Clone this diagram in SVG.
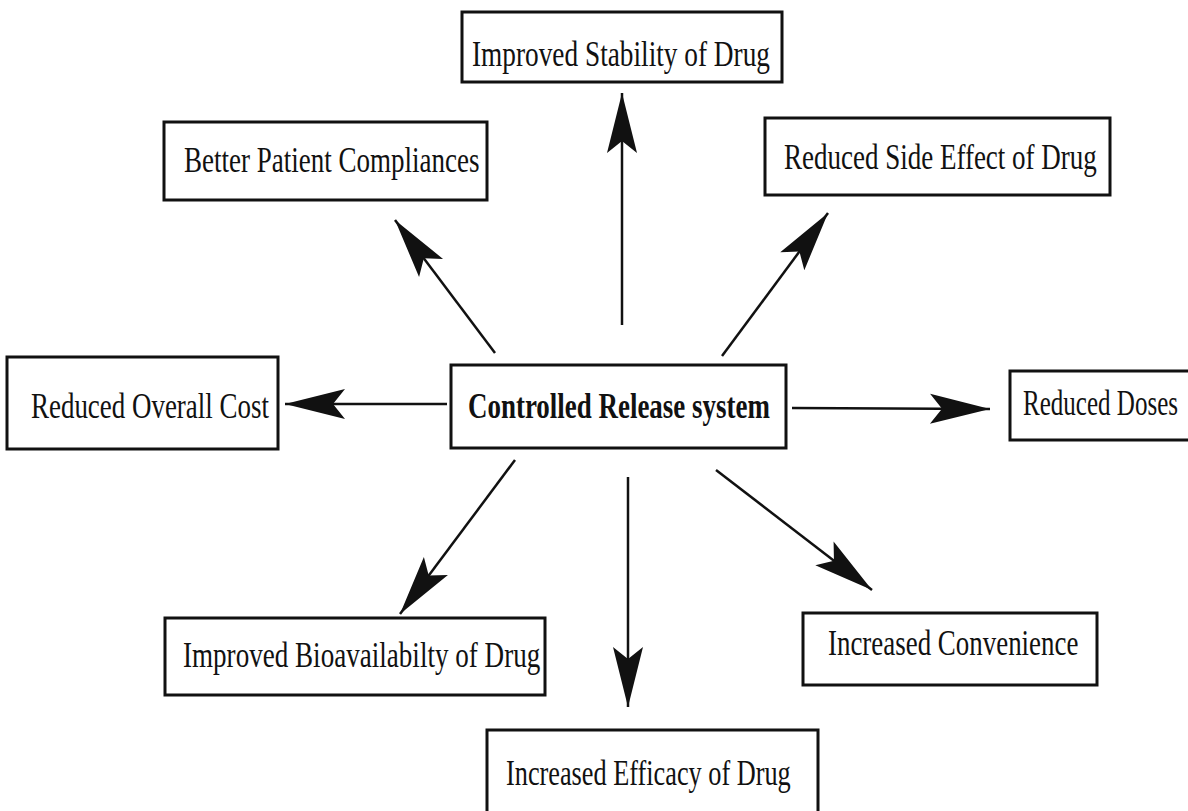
<svg xmlns="http://www.w3.org/2000/svg" width="1188" height="811" viewBox="0 0 1188 811">
<style>
.box{fill:#fff;stroke:#111;stroke-width:3}
.t{font-family:"Liberation Serif","Times New Roman",serif;font-size:36px;fill:#111}
.b{font-weight:bold}
.c{stroke:#111;stroke-width:2.5;fill:none}
</style>
<defs>
<marker id="ah" markerUnits="userSpaceOnUse" markerWidth="70" markerHeight="40" viewBox="-64 -20 70 40" refX="0" refY="0" orient="auto">
<path d="M0,0 L-60,-15 L-48,0 L-60,15 Z" fill="#111"/>
</marker>
</defs>
<rect width="1188" height="811" fill="#fff"/>
<g id="connectors">
<line class="c" x1="622" y1="325" x2="622" y2="93" marker-end="url(#ah)"/>
<line class="c" x1="495" y1="353" x2="395" y2="220" marker-end="url(#ah)"/>
<line class="c" x1="722" y1="356" x2="828" y2="213" marker-end="url(#ah)"/>
<line class="c" x1="447" y1="404" x2="285" y2="404" marker-end="url(#ah)"/>
<line class="c" x1="792" y1="408" x2="990" y2="409" marker-end="url(#ah)"/>
<line class="c" x1="515" y1="460" x2="400" y2="614" marker-end="url(#ah)"/>
<line class="c" x1="628" y1="477" x2="628" y2="707" marker-end="url(#ah)"/>
<line class="c" x1="716" y1="470" x2="872" y2="590" marker-end="url(#ah)"/>
</g>
<g id="center">
<rect class="box" x="451" y="365" width="335" height="83"/>
<text class="t b" transform="translate(468,418) scale(0.78,1)" textLength="387" lengthAdjust="spacingAndGlyphs">Controlled Release system</text>
</g>
<g id="stability">
<rect class="box" x="462" y="12" width="320" height="70"/>
<text class="t" transform="translate(472,66) scale(0.78,1)" textLength="382" lengthAdjust="spacingAndGlyphs">Improved Stability of Drug</text>
</g>
<g id="compliance">
<rect class="box" x="164" y="122" width="323" height="78"/>
<text class="t" transform="translate(184,172) scale(0.78,1)" textLength="379" lengthAdjust="spacingAndGlyphs">Better Patient Compliances</text>
</g>
<g id="sideeffect">
<rect class="box" x="765" y="118" width="345" height="77"/>
<text class="t" transform="translate(784,169) scale(0.78,1)" textLength="401" lengthAdjust="spacingAndGlyphs">Reduced Side Effect of Drug</text>
</g>
<g id="cost">
<rect class="box" x="7" y="357" width="271" height="92"/>
<text class="t" transform="translate(31,418) scale(0.78,1)" textLength="305" lengthAdjust="spacingAndGlyphs">Reduced Overall Cost</text>
</g>
<g id="doses">
<rect class="box" x="1010" y="371" width="190" height="69"/>
<text class="t" transform="translate(1023,415) scale(0.76,1)" textLength="204" lengthAdjust="spacingAndGlyphs">Reduced Doses</text>
</g>
<g id="bioavailability">
<rect class="box" x="165" y="618" width="380" height="77"/>
<text class="t" transform="translate(183,667) scale(0.78,1)" textLength="458" lengthAdjust="spacingAndGlyphs">Improved Bioavailabilty of Drug</text>
</g>
<g id="efficacy">
<rect class="box" x="487" y="730" width="331" height="90"/>
<text class="t" transform="translate(506,785) scale(0.78,1)" textLength="365" lengthAdjust="spacingAndGlyphs">Increased Efficacy of Drug</text>
</g>
<g id="convenience">
<rect class="box" x="803" y="613" width="294" height="72"/>
<text class="t" transform="translate(828,655) scale(0.78,1)" textLength="321" lengthAdjust="spacingAndGlyphs">Increased Convenience</text>
</g>
</svg>
